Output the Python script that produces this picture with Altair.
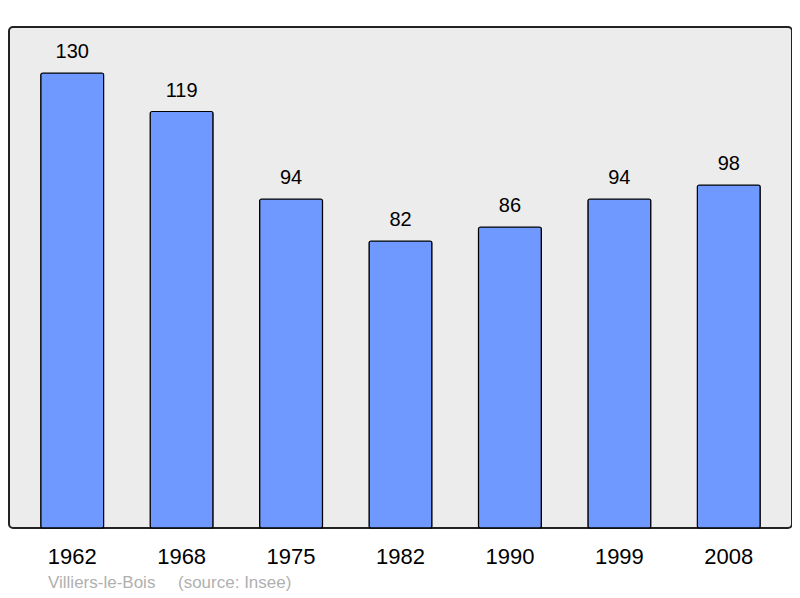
import altair as alt
import pandas as pd

years = ["1962", "1968", "1975", "1982", "1990", "1999", "2008"]
population = [130, 119, 94, 82, 86, 94, 98]
place_label = "Villiers-le-Bois"
source_label = "(source: Insee)"

df = pd.DataFrame({"year": years, "pop": population})

W, H = 783, 501
FONT = "Liberation Sans"

x = alt.X("year:N", sort=years, title=None,
          scale=alt.Scale(paddingInner=0.425, paddingOuter=0.29),
          axis=alt.Axis(ticks=False, domain=False, labelFontSize=22, labelColor="#000000",
                        labelFont=FONT, labelPadding=28, labelBaseline="middle", labelAngle=0))
y = alt.Y("pop:Q", title=None, scale=alt.Scale(domain=[0, H / 3.5], nice=False, zero=True),
          axis=None)

bars = alt.Chart(df).mark_bar(color="#7099ff", stroke="#000000", strokeWidth=1.2,
                              cornerRadius=2).encode(x=x, y=y)

labels = alt.Chart(df).mark_text(fontSize=20, font=FONT, color="#000000", baseline="middle",
                                 dy=-21).encode(x=x, y=y, text=alt.Text("pop:Q"))

src_df = pd.DataFrame({"t": [place_label, source_label], "px": [39, 169]})
src = alt.Chart(src_df).mark_text(fontSize=17, font=FONT, color="#b0b0b0", align="left",
                                  baseline="middle").encode(
    x=alt.X("px:Q", scale=None), y=alt.value(556), text="t:N")

chart = alt.layer(bars, labels, src).properties(
    width=W, height=H,
    autosize=alt.AutoSizeParams(type="none"),
    padding={"left": 1, "top": 19, "right": 0, "bottom": 66},
    background="#ffffff",
).configure_view(
    fill="#ececec", stroke="#222222", strokeWidth=2, cornerRadius=4
)

chart.save("out.html", embed_options={"renderer": "svg", "actions": False})
